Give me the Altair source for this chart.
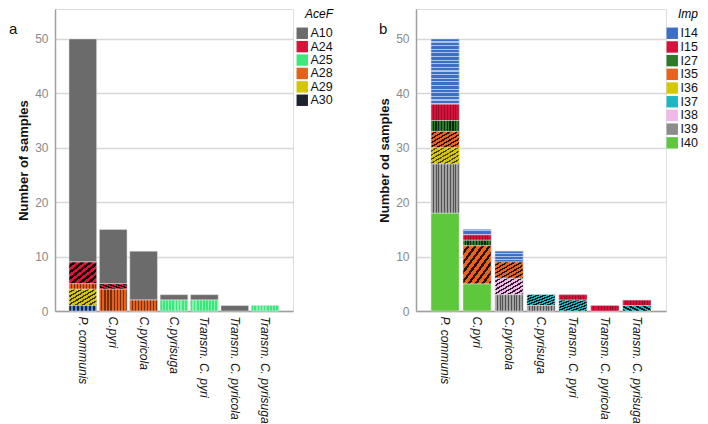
import altair as alt
import pandas as pd

species = ["P. communis", "C.pyri", "C.pyricola", "C.pyrisuga",
           "Transm. C. pyri", "Transm. C. pyricola", "Transm. C. pyrisuga"]

# Panel a: AceF haplotypes, counts per species
aceF_labels = ["A10", "A24", "A25", "A28", "A29", "A30"]
A10 = [41, 10, 9, 1, 1, 1, 0]
A24 = [4, 1, 0, 0, 0, 0, 0]
A25 = [0, 0, 0, 2, 2, 0, 1]
A28 = [1, 4, 2, 0, 0, 0, 0]
A29 = [3, 0, 0, 0, 0, 0, 0]
A30 = [1, 0, 0, 0, 0, 0, 0]

# Panel b: Imp haplotypes, counts per species
imp_labels = ["I14", "I15", "I27", "I35", "I36", "I37", "I38", "I39", "I40"]
I14 = [12, 1, 2, 0, 0, 0, 0]
I15 = [3, 1, 0, 0, 1, 1, 1]
I27 = [2, 1, 0, 0, 0, 0, 0]
I35 = [3, 7, 3, 0, 0, 0, 0]
I36 = [3, 0, 0, 0, 0, 0, 0]
I37 = [0, 0, 0, 2, 2, 0, 1]
I38 = [0, 0, 3, 0, 0, 0, 0]
I39 = [9, 0, 3, 1, 0, 0, 0]
I40 = [18, 5, 0, 0, 0, 0, 0]

aceF_series = [A10, A24, A25, A28, A29, A30]
imp_series = [I14, I15, I27, I35, I36, I37, I38, I39, I40]


def long_df(labels, series):
    rows = []
    for idx, (lab, vals) in enumerate(zip(labels, series)):
        for sp, v in zip(species, vals):
            rows.append({"species": sp, "cat": lab, "idx": idx, "n": v})
    return pd.DataFrame(rows)


def stripes(c1, c2, n, x1, y1, x2, y2, duty=0.5):
    stops = []
    for k in range(n):
        a = k / n
        b = (k + duty) / n
        c = (k + 1) / n
        stops += [alt.GradientStop(color=c1, offset=a), alt.GradientStop(color=c1, offset=b),
                  alt.GradientStop(color=c2, offset=b), alt.GradientStop(color=c2, offset=c)]
    return alt.LinearGradient(gradient="linear", stops=stops, x1=x1, y1=y1, x2=x2, y2=y2)


V = (0, 0, 1, 0)      # vertical stripes
H = (0, 0, 0, 1)      # horizontal stripes
D = (0, 0, 1, 1)      # diagonal

aceF_colors = ["#6b6b6b", "#d8143a", "#3ce87c", "#e2621c", "#d6c600", "#1c2230"]
aceF_tex = {
    "A24": stripes("#d8143a", "#1a0808", 7, *D, duty=0.5),
    "A25": stripes("#3ce87c", "#88f2b0", 9, *V, duty=0.6),
    "A28": stripes("#e2621c", "#7a2e0a", 9, *V, duty=0.6),
    "A29": stripes("#d6c600", "#3a3600", 8, *D, duty=0.6),
    "A30": stripes("#1c2230", "#4a90e0", 7, *V, duty=0.5),
}

imp_colors = ["#3d6fc6", "#d8103c", "#2a7a2a", "#e8621e", "#d6c800",
              "#1ab8c4", "#f2b8e8", "#8c8c8c", "#5ec83c"]
imp_tex = {
    "I14": stripes("#3d6fc6", "#a8c4ee", 18, *H, duty=0.68),
    "I15": stripes("#d8103c", "#9a0c2a", 10, *V, duty=0.65),
    "I27": stripes("#2a7a2a", "#0a2a0a", 10, *V, duty=0.55),
    "I35": stripes("#e8621e", "#2a1208", 8, *D, duty=0.6),
    "I36": stripes("#d6c800", "#4a4400", 8, *D, duty=0.65),
    "I37": stripes("#1ab8c4", "#0a1a1a", 8, *D, duty=0.5),
    "I38": stripes("#f2b8e8", "#2a1a2a", 8, *D, duty=0.6),
    "I39": stripes("#a0a0a0", "#505050", 10, *V, duty=0.65),
}

FONT = "Liberation Sans"


def panel(labels, series, colors, textures, letter, ytitle, legend_title,
          width, pi, po, legend_offset, letter_x, row_pad):
    df = long_df(labels, series)
    base = (alt.Chart(df)
            .transform_filter("datum.n > 0")
            .transform_stack(stack="n", groupby=["species"], as_=["y0", "y1"],
                             sort=[alt.SortField("idx", order="descending")]))
    x = alt.X("species:N", sort=species,
              scale=alt.Scale(paddingInner=pi, paddingOuter=po),
              axis=alt.Axis(title=None, labelAngle=90, labelFontStyle="italic",
                            labelFontSize=12, labelColor="#111", labelFont=FONT,
                            ticks=False, labelPadding=5, domainColor="#a0a0a0",
                            domainWidth=1.5, grid=False))
    y = alt.Y("y0:Q", scale=alt.Scale(domain=[0, 55.5], nice=False),
              axis=alt.Axis(title=ytitle, values=[0, 10, 20, 30, 40, 50],
                            ticks=False, labelColor="#8a8a8a", labelFontSize=12,
                            labelFont=FONT, labelPadding=7,
                            titleFont=FONT, titleFontSize=13, titleFontWeight="bold",
                            titleColor="#111", titlePadding=4,
                            domainColor="#a0a0a0", domainWidth=1.5,
                            gridColor="#d8d8d8", gridWidth=1.5))
    bars = base.mark_bar(stroke="#e6e6e6", strokeWidth=0.5).encode(
        x=x, y=y, y2="y1:Q",
        color=alt.Color("cat:N", scale=alt.Scale(domain=labels, range=colors),
                        legend=alt.Legend(title=legend_title, orient="right",
                                          offset=legend_offset, padding=0,
                                          symbolType="square", symbolSize=130,
                                          symbolStrokeWidth=0,
                                          labelFontSize=12.5, labelFont=FONT,
                                          labelColor="#111", labelOffset=2,
                                          titleFont=FONT, titleFontSize=12,
                                          titleFontStyle="italic",
                                          titleFontWeight="normal",
                                          titleAnchor="end", titlePadding=6,
                                          rowPadding=row_pad)))
    layers = [bars]
    for cat, grad in textures.items():
        layers.append(base.transform_filter(alt.datum.cat == cat)
                      .mark_bar(fill=grad, stroke="#e6e6e6", strokeWidth=0.5)
                      .encode(x=x, y=y, y2="y1:Q"))
    letter_mark = alt.Chart(pd.DataFrame({"t": [letter]})).mark_text(
        align="left", baseline="middle", fontSize=15, font=FONT, color="#111"
    ).encode(x=alt.value(letter_x), y=alt.value(20), text="t:N")
    layers.append(letter_mark)
    return alt.layer(*layers).properties(width=width, height=302)


pa = panel(aceF_labels, aceF_series, aceF_colors, aceF_tex, "a",
           "Number of samples", "AceF", 238, 0.09, 0.46, 3, -46, 0.4)
pb = panel(imp_labels, imp_series, imp_colors, imp_tex, "b",
           "Number od samples", "Imp", 250, 0.12, 0.47, 0, -37, 0.7)

chart = (alt.hconcat(pa, pb, spacing=44)
         .resolve_scale(color="independent")
         .properties(padding=0)
         .configure_view(stroke=None)
         .configure(background="white"))

chart.save("out.html", embed_options={"renderer": "svg", "actions": False})
